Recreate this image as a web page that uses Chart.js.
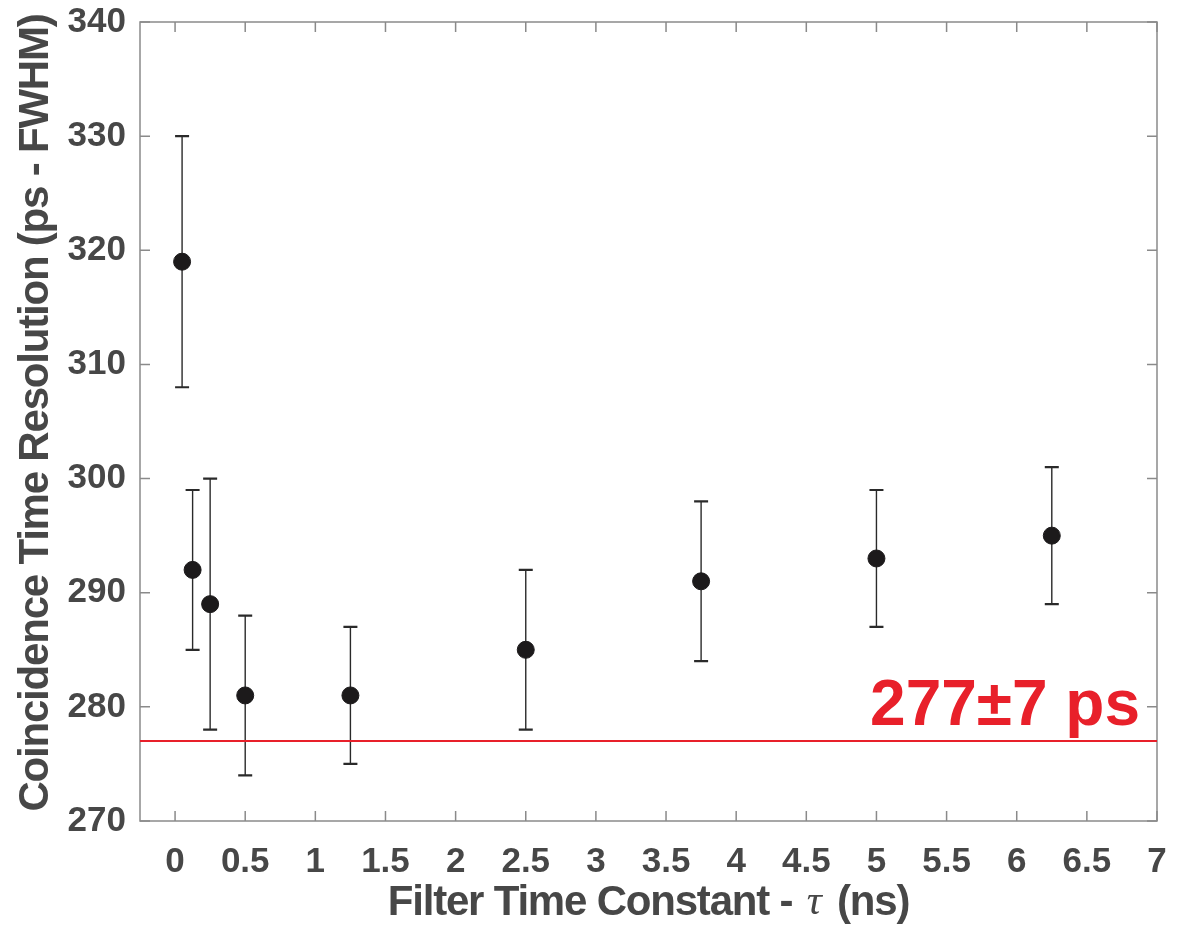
<html>
<script src="https://cdn.jsdelivr.net/npm/chart.js@4/dist/chart.umd.min.js"></script>
<style>
  body { margin: 0; background: #fff; }
  canvas { display: block; }
</style>
<body>
<canvas id="ctrChart" width="1180" height="937"></canvas>
<script>
  // filter time constant (ns) and measured CTR (ps FWHM) with error bar ends
  var tau = [0.05, 0.125, 0.25, 0.5, 1.25, 2.5, 3.75, 5, 6.25];
  var ctr = [319, 292, 289, 281, 281, 285, 291, 293, 295];
  var ctrLow = [308, 285, 278, 274, 275, 278, 284, 287, 289];
  var ctrHigh = [330, 299, 300, 288, 287, 292, 298, 299, 301];

  var refValue = 277;
  var refLabel = "277\u00b17 ps";

  var xTicks = [0, 0.5, 1, 1.5, 2, 2.5, 3, 3.5, 4, 4.5, 5, 5.5, 6, 6.5, 7];
  var yTicks = [270, 280, 290, 300, 310, 320, 330, 340];
  var xMin = -0.25, xMax = 7;

  var yTitle = "Coincidence Time Resolution (ps - FWHM)";
  var xTitleParts = ["Filter Time Constant - ", "\u03c4", " (ns)"];

  var textCol = "#474747";
  var axisCol = "#8a8a8a";
  var sans = "'Liberation Sans', Arial, sans-serif";

  var points = tau.map(function (t, i) { return { x: t, y: ctr[i] }; });

  // box round the plot with inward ticks, error bars, titles and the red label
  var decorPlugin = {
    id: "decor",
    beforeDatasetsDraw: function (chart) {
      var c = chart.ctx, a = chart.chartArea;
      var xs = chart.scales.x, ys = chart.scales.y;
      c.save();
      c.strokeStyle = axisCol;
      c.lineWidth = 1.5;
      c.strokeRect(a.left, a.top, a.right - a.left, a.bottom - a.top);
      xTicks.forEach(function (v) {
        var px = xs.getPixelForValue(v);
        c.beginPath();
        c.moveTo(px, a.bottom); c.lineTo(px, a.bottom - 10);
        c.moveTo(px, a.top); c.lineTo(px, a.top + 10);
        c.stroke();
      });
      yTicks.forEach(function (v) {
        var py = ys.getPixelForValue(v);
        c.beginPath();
        c.moveTo(a.left, py); c.lineTo(a.left + 10, py);
        c.moveTo(a.right, py); c.lineTo(a.right - 10, py);
        c.stroke();
      });

      // error bars
      c.strokeStyle = "#2a2a2a";
      for (var i = 0; i < tau.length; i++) {
        var px = xs.getPixelForValue(tau[i]);
        var lo = ys.getPixelForValue(ctrLow[i]);
        var hi = ys.getPixelForValue(ctrHigh[i]);
        c.lineWidth = 1.4;
        c.beginPath();
        c.moveTo(px, lo); c.lineTo(px, hi);
        c.stroke();
        c.lineWidth = 2.2;
        c.beginPath();
        c.moveTo(px - 7, lo); c.lineTo(px + 7, lo);
        c.moveTo(px - 7, hi); c.lineTo(px + 7, hi);
        c.stroke();
      }
      c.restore();
    },
    afterDraw: function (chart) {
      var c = chart.ctx, a = chart.chartArea;
      var ys = chart.scales.y;
      c.save();
      // reference label
      c.fillStyle = "#e8202a";
      c.font = "bold 64px " + sans;
      c.textAlign = "right";
      c.textBaseline = "alphabetic";
      c.fillText(refLabel, a.right - 17, ys.getPixelForValue(refValue) - 16);

      c.fillStyle = textCol;
      c.textBaseline = "middle";
      var f1 = "bold 42px " + sans, f2 = "italic 42px 'Liberation Serif', serif";

      // y axis title
      c.save();
      c.font = f1;
      c.letterSpacing = "-1.2px";
      c.textAlign = "center";
      c.translate(36, 413);
      c.rotate(-Math.PI / 2);
      c.fillText(yTitle, 0, 0);
      c.restore();

      // x axis title with italic tau
      c.letterSpacing = "-1.2px";
      c.textAlign = "left";
      var gapL = 4, gapR = 6;
      c.font = f1;
      var w1 = c.measureText(xTitleParts[0]).width, w3 = c.measureText(xTitleParts[2]).width;
      c.font = f2;
      var w2 = c.measureText(xTitleParts[1]).width;
      var total = w1 + gapL + w2 + gapR + w3;
      var x0 = (a.left + a.right) / 2 - total / 2;
      var y0 = 903;
      c.font = f1; c.fillText(xTitleParts[0], x0, y0);
      c.font = f2; c.fillText(xTitleParts[1], x0 + w1 + gapL, y0);
      c.font = f1; c.fillText(xTitleParts[2], x0 + w1 + gapL + w2 + gapR, y0);
      c.restore();
    }
  };

  new Chart(document.getElementById("ctrChart"), {
    type: "scatter",
    data: {
      datasets: [
        {
          label: "CTR",
          data: points,
          backgroundColor: "#1c1a1b",
          borderColor: "#1c1a1b",
          pointRadius: 8.5,
          pointHoverRadius: 8.5,
          order: 1
        },
        {
          label: "best",
          type: "line",
          data: [{ x: xMin, y: refValue }, { x: xMax, y: refValue }],
          borderColor: "#e8202a",
          borderWidth: 2,
          pointRadius: 0,
          fill: false,
          order: 2
        }
      ]
    },
    options: {
      responsive: false,
      animation: false,
      devicePixelRatio: 1,
      layout: { padding: { top: 22, right: 23, left: 0, bottom: 0 } },
      plugins: { legend: { display: false }, tooltip: { enabled: false } },
      scales: {
        x: {
          type: "linear",
          min: xMin,
          max: xMax,
          afterBuildTicks: function (scale) {
            scale.ticks = xTicks.map(function (v) { return { value: v }; });
          },
          afterFit: function (scale) {
            scale.height = 116;
            scale.paddingLeft = 0; scale.paddingRight = 0;
            scale.paddingTop = 0; scale.paddingBottom = 0;
          },
          grid: { display: false, drawTicks: false },
          border: { display: false },
          ticks: {
            color: textCol,
            font: { family: sans, size: 35, weight: "bold" },
            padding: 20,
            maxRotation: 0,
            autoSkip: false,
            callback: function (v) { return String(v); }
          }
        },
        y: {
          min: 270,
          max: 340,
          afterBuildTicks: function (scale) {
            scale.ticks = yTicks.map(function (v) { return { value: v }; });
          },
          afterFit: function (scale) {
            scale.width = 140;
            scale.paddingLeft = 0; scale.paddingRight = 0;
            scale.paddingTop = 0; scale.paddingBottom = 0;
          },
          grid: { display: false, drawTicks: false },
          border: { display: false },
          ticks: {
            color: textCol,
            font: { family: sans, size: 35, weight: "bold" },
            padding: 14
          }
        }
      }
    },
    plugins: [decorPlugin]
  });
</script>
</body>
</html>
